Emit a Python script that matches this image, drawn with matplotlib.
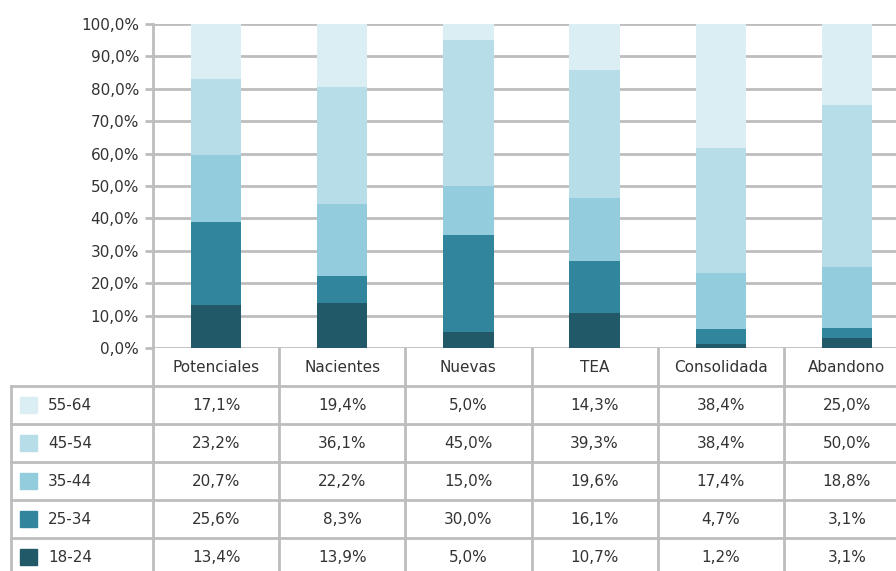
import matplotlib.pyplot as plt
import numpy as np

# categories and series (values in %)
categorias = ["Potenciales", "Nacientes", "Nuevas", "TEA", "Consolidada", "Abandono"]
edades = ["18-24", "25-34", "35-44", "45-54", "55-64"]
v_18_24 = [13.4, 13.9, 5.0, 10.7, 1.2, 3.1]
v_25_34 = [25.6, 8.3, 30.0, 16.1, 4.7, 3.1]
v_35_44 = [20.7, 22.2, 15.0, 19.6, 17.4, 18.8]
v_45_54 = [23.2, 36.1, 45.0, 39.3, 38.4, 50.0]
v_55_64 = [17.1, 19.4, 5.0, 14.3, 38.4, 25.0]
colores = ["#215968", "#31859c", "#93cddd", "#b7dee8", "#dbeef4"]

series = [v_18_24, v_25_34, v_35_44, v_45_54, v_55_64]
texto = "#333333"
gris = "#bdbdbd"
W, H = 896, 571

fig = plt.figure(figsize=(W / 100, H / 100), dpi=100)

# main chart axes (right side cropped, like the reference)
x_left, x_right = 153, 910
ax = fig.add_axes([x_left / W, (H - 348) / H, (x_right - x_left) / W, (348 - 24) / H])
x = np.arange(len(categorias))
bottom = np.zeros(len(categorias))
for vals, c in zip(series, colores):
    ax.bar(x, vals, bottom=bottom, width=0.4, color=c, zorder=3)
    bottom += np.array(vals)

ax.set_xlim(-0.5, len(categorias) - 0.5)
ax.set_ylim(0, 100)
ax.set_yticks(np.arange(0, 101, 10))
ax.set_yticklabels([f"{t},0%" for t in range(0, 101, 10)], fontsize=11, color=texto)
ax.yaxis.grid(True, color=gris, lw=2, zorder=0)
ax.tick_params(axis="y", length=6, color=gris, width=2, pad=4)
ax.set_xticks([])
for s in ["top", "right", "bottom"]:
    ax.spines[s].set_visible(False)
ax.spines["left"].set_color(gris)
ax.spines["left"].set_linewidth(2)

# data table below the chart
t_left = 10
row_h = 38
n_rows = 1 + len(edades)
t_top = 348
t_bottom = t_top + n_rows * row_h
tx = fig.add_axes([t_left / W, (H - t_bottom) / H, (x_right - t_left) / W, (t_bottom - t_top) / H])
unit = (x_right - x_left) / len(categorias)
x0 = -0.5 - (x_left - t_left) / unit
tx.set_xlim(x0, len(categorias) - 0.5)
tx.set_ylim(n_rows, 0)
tx.axis("off")

# vertical lines
for b in np.arange(-0.5, len(categorias) + 0.5, 1):
    tx.plot([b, b], [0, n_rows], color=gris, lw=2)
tx.plot([x0 + 0.006, x0 + 0.006], [1, n_rows], color=gris, lw=2)
# horizontal lines
for r in range(1, n_rows + 1):
    tx.plot([x0, len(categorias) - 0.5], [r, r], color=gris, lw=2)

for i, cat in enumerate(categorias):
    tx.text(i, 0.5, cat, ha="center", va="center", fontsize=11, color=texto)

# rows ordered from oldest to youngest
for r, k in enumerate(range(len(edades) - 1, -1, -1), start=1):
    tx.add_patch(plt.Rectangle((x0 + 0.08, r + 0.28), 0.135, 0.44,
                               color=colores[k], transform=tx.transData))
    tx.text(x0 + 0.3, r + 0.5, edades[k], ha="left", va="center", fontsize=11, color=texto)
    for i, v in enumerate(series[k]):
        tx.text(i, r + 0.5, f"{v:.1f}%".replace(".", ","), ha="center", va="center",
                fontsize=11, color=texto)

fig.savefig("out.png", dpi=100)
